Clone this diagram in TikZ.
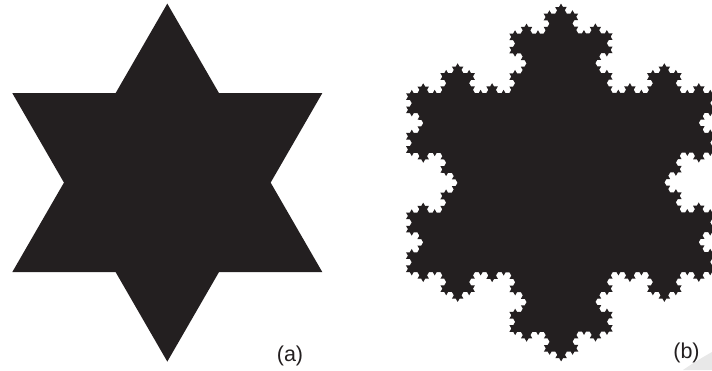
\documentclass[tikz,border=0pt]{standalone}
\usepackage{fontspec}
\setmainfont{Liberation Sans}
\usetikzlibrary{decorations.fractals}
\definecolor{ink}{RGB}{35,31,32}
\definecolor{curl}{RGB}{232,232,232}
\tikzset{
  shapefill/.style={fill=ink},
  lbl/.style={font=\fontsize{21.5}{24}\selectfont, text=ink, inner sep=0pt}
}
\begin{document}
\begin{tikzpicture}[x=1pt,y=1pt]
\useasboundingbox (0,0) rectangle (712,370);
\clip (0,0) rectangle (712,370);
% page curl in the corner
\fill[curl] (683,0) .. controls (693,7) and (703,13) .. (712,18) -- (712,0) -- cycle;
% (a) hexagram
\begin{scope}[shift={(167.3,187.4)}]
  \fill[shapefill] (90:179) -- (210:179) -- (330:179) -- cycle;
  \fill[shapefill] (270:179) -- (30:179) -- (150:179) -- cycle;
\end{scope}
% (b) Koch snowflake
\begin{scope}[shift={(561,187.4)}]
  \fill[shapefill, decoration=Koch snowflake]
    decorate{decorate{decorate{decorate{
      (90:179) -- (330:179) -- (210:179) -- (90:179)
    }}}};
\end{scope}
\node[lbl] (la) at (290,14) {(a)};
\node[lbl] (lb) at (686.5,17.5) {(b)};
\end{tikzpicture}
\end{document}
